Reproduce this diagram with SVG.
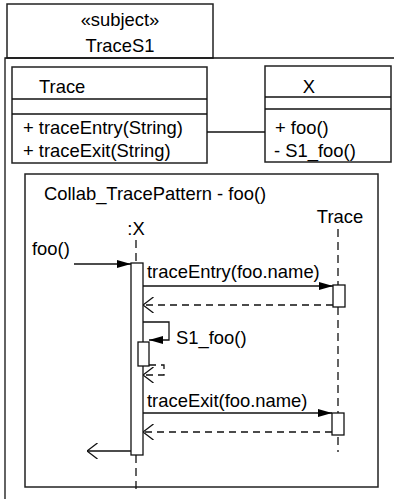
<svg xmlns="http://www.w3.org/2000/svg" width="394" height="499" viewBox="0 0 394 499">
  <style>
    text { font-family: "Liberation Sans", Arial, sans-serif; font-size: 18.4px; fill: #000; }
    .box { fill: #fff; stroke: #222; stroke-width: 1.5; }
    .ln { fill: none; stroke: #111; stroke-width: 1.3; }
    .dash { fill: none; stroke: #111; stroke-width: 1.3; stroke-dasharray: 7 5; }
    .life { fill: none; stroke: #111; stroke-width: 1.3; stroke-dasharray: 8 5; }
    .act { fill: #fff; stroke: #111; stroke-width: 1.3; }
  </style>
  <defs>
    <marker id="filled" viewBox="0 0 14 8" refX="14" refY="4" markerWidth="14" markerHeight="8" markerUnits="userSpaceOnUse" orient="auto">
      <path d="M0,0 L14,4 L0,8 Z" fill="#000"/>
    </marker>
    <marker id="open" viewBox="0 0 11 16" refX="10.5" refY="8" markerWidth="11" markerHeight="16" markerUnits="userSpaceOnUse" orient="auto">
      <path d="M0,0 L10.5,8 L0,16" fill="none" stroke="#111" stroke-width="1.3"/>
    </marker>
  </defs>

  <!-- subject tab -->
  <g id="subject">
    <rect class="box" x="7" y="4" width="206" height="54"/>
    <text x="120" y="26" text-anchor="middle">«subject»</text>
    <text x="120" y="52" text-anchor="middle">TraceS1</text>
  </g>

  <!-- package frame -->
  <path class="ln" d="M5,499 V58 H394" stroke-width="1.6"/>

  <g id="class-trace">
    <rect class="box" x="12" y="67" width="195" height="96"/>
    <line class="ln" x1="12" y1="99" x2="207" y2="99"/>
    <line class="ln" x1="12" y1="114" x2="207" y2="114"/>
    <text x="39" y="93">Trace</text>
    <text x="23" y="134">+ traceEntry(String)</text>
    <text x="23" y="157">+ traceExit(String)</text>
  </g>

  <g id="class-x">
    <rect class="box" x="265" y="66" width="126" height="96"/>
    <line class="ln" x1="265" y1="97" x2="391" y2="97"/>
    <line class="ln" x1="265" y1="109" x2="391" y2="109"/>
    <text x="309" y="93" text-anchor="middle">X</text>
    <text x="275" y="134">+ foo()</text>
    <text x="274" y="157">- S1_foo()</text>
  </g>

  <g id="collab">
    <rect class="box" x="25" y="174" width="353" height="313"/>
    <text x="44" y="200">Collab_TracePattern - foo()</text>
  </g>

  <g id="lifeline-x">
    <text x="136" y="235" text-anchor="middle">:X</text>
    <line class="life" x1="136" y1="240" x2="136" y2="263"/>
    <line class="life" x1="136" y1="455" x2="136" y2="492"/>
    <rect class="act" x="131" y="263" width="12" height="192"/>
    <rect class="act" x="138" y="342" width="11" height="24"/>
  </g>

  <g id="lifeline-trace">
    <text x="340" y="223" text-anchor="middle">Trace</text>
    <line class="life" x1="338" y1="229" x2="338" y2="452"/>
    <rect class="act" x="333" y="285" width="12" height="22"/>
    <rect class="act" x="332" y="413" width="12" height="22"/>
  </g>

  <g id="connectors">
    <line class="ln" x1="207" y1="132" x2="265" y2="132"/>
    <line class="ln" x1="74" y1="264" x2="131" y2="264" marker-end="url(#filled)"/>
    <line class="ln" x1="143" y1="286" x2="333" y2="286" marker-end="url(#filled)"/>
    <line class="dash" x1="333" y1="305" x2="143" y2="305" marker-end="url(#open)"/>
    <polyline class="ln" points="143,322 169,322 169,340 149,340" marker-end="url(#filled)"/>
    <polyline class="dash" points="149,365 164,365 164,375 143,375" marker-end="url(#open)"/>
    <line class="ln" x1="143" y1="413" x2="332" y2="413" marker-end="url(#filled)"/>
    <line class="dash" x1="332" y1="432" x2="143" y2="432" marker-end="url(#open)"/>
    <line class="ln" x1="131" y1="451" x2="87" y2="451" marker-end="url(#open)"/>
  </g>

  <g id="labels">
    <text x="32" y="255">foo()</text>
    <text x="147" y="278">traceEntry(foo.name)</text>
    <text x="176" y="344">S1_foo()</text>
    <text x="147" y="407">traceExit(foo.name)</text>
  </g>
</svg>
